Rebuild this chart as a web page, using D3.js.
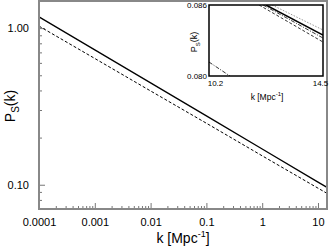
<!DOCTYPE html>
<html>
<head>
<meta charset="utf-8">
<script src="https://cdn.jsdelivr.net/npm/d3@7"></script>
<style>
  body { margin: 0; background: #fff; }
  svg { display: block; font-family: "Liberation Sans", Arial, sans-serif; }
</style>
</head>
<body>
<svg width="329" height="247"></svg>
<script>
// main panel: primordial spectrum vs k (log-log)
const kMain = [0.0001, 0.001, 0.01, 0.1, 1, 10, 14.5];
const psSolid = [1.18, 0.726, 0.447, 0.275, 0.169, 0.104, 0.0962];
const psDashed = [1.03, 0.640, 0.397, 0.247, 0.153, 0.0951, 0.0881];

const xTicks = [0.0001, 0.001, 0.01, 0.1, 1, 10];
const xTickLabels = ['0.0001', '0.001', '0.01', '0.1', '1', '10'];
const yTicks = [0.1, 1];
const yTickLabels = ['0.10', '1.00'];
const yMinor = [0.08, 0.09, 0.2, 0.3, 0.4, 0.5, 0.6, 0.7, 0.8, 0.9];

// inset: zoom near k = 10.2 .. 14.5
const insetK = [10.2, 14.5];
const insetP = [0.080, 0.086];
const insetDotted = { k: [12.58, 14.5], p: [0.086, 0.08389] };
const insetSolid = { k: [12.35, 14.5], p: [0.086, 0.08346] };
const insetDashDot = { k: [12.24, 14.5], p: [0.086, 0.08321] };
const insetDashed = { k: [12.09, 14.5], p: [0.086, 0.08287] };
const insetLow = { k: [10.2, 10.99], p: [0.08118, 0.080] };

const svg = d3.select('svg');

const x = d3.scaleLog().domain([0.0001, 14.5]).range([39, 327]);
const y = d3.scaleLog().domain([0.07, 1.49]).range([209, 1]);

// minor x ticks 2..9 per decade
const xMinor = [];
for (let e = -4; e <= 1; e++) {
  for (let m = 2; m <= 9; m++) {
    const v = m * Math.pow(10, e);
    if (v < 14.5) xMinor.push(v);
  }
}

const g = svg.append('g');

g.append('g')
  .attr('transform', 'translate(0,209)')
  .call(d3.axisBottom(x).tickValues(xMinor).tickFormat('').tickSizeInner(-3).tickSizeOuter(0))
  .call((s) => s.select('.domain').remove())
  .call((s) => s.selectAll('line').attr('stroke', '#777'));

g.append('g')
  .attr('transform', 'translate(0,209)')
  .call(d3.axisBottom(x).tickValues(xTicks).tickFormat((d, i) => xTickLabels[i]).tickSizeInner(-6).tickSizeOuter(0).tickPadding(9))
  .call((s) => s.select('.domain').remove())
  .call((s) => s.selectAll('line').attr('stroke', '#777'))
  .call((s) => s.selectAll('text').attr('font-size', 11).attr('fill', '#000').attr('font-family', null));

g.append('g')
  .attr('transform', 'translate(39,0)')
  .call(d3.axisLeft(y).tickValues(yMinor).tickFormat('').tickSizeInner(-3).tickSizeOuter(0))
  .call((s) => s.select('.domain').remove())
  .call((s) => s.selectAll('line').attr('stroke', '#777'));

g.append('g')
  .attr('transform', 'translate(39,0)')
  .call(d3.axisLeft(y).tickValues(yTicks).tickFormat((d, i) => yTickLabels[i]).tickSizeInner(-6).tickSizeOuter(0).tickPadding(10))
  .call((s) => s.select('.domain').remove())
  .call((s) => s.selectAll('line').attr('stroke', '#777'))
  .call((s) => s.selectAll('text').attr('font-size', 11).attr('fill', '#000').attr('font-family', null));

const line = d3.line().x((d) => x(d[0])).y((d) => y(d[1]));

g.append('path')
  .datum(d3.zip(kMain, psSolid))
  .attr('d', line)
  .attr('fill', 'none')
  .attr('stroke', '#000')
  .attr('stroke-width', 1.3);

g.append('path')
  .datum(d3.zip(kMain, psDashed))
  .attr('d', line)
  .attr('fill', 'none')
  .attr('stroke', '#000')
  .attr('stroke-width', 1)
  .attr('stroke-dasharray', '3,2');

// frame
g.append('rect')
  .attr('x', 39).attr('y', 1)
  .attr('width', 288).attr('height', 208)
  .attr('fill', 'none')
  .attr('stroke', '#888')
  .attr('stroke-width', 2);

// axis titles
const yl = svg.append('text')
  .attr('transform', 'translate(15,106) rotate(-90)')
  .attr('text-anchor', 'middle')
  .attr('font-size', 14);
yl.append('tspan').text('P');
yl.append('tspan').attr('font-size', 10).attr('dy', 4).text('S');
yl.append('tspan').attr('dy', -4).text('(k)');

const xl = svg.append('text')
  .attr('x', 183).attr('y', 243)
  .attr('text-anchor', 'middle')
  .attr('font-size', 14);
xl.append('tspan').text('k [Mpc');
xl.append('tspan').attr('font-size', 9).attr('dy', -6).text('-1');
xl.append('tspan').attr('dy', 6).text(']');

// ----- inset -----
const ix = d3.scaleLinear().domain(insetK).range([209, 323]);
const iy = d3.scaleLinear().domain(insetP).range([76, 5]);

const inset = svg.append('g');
inset.append('rect')
  .attr('x', 209).attr('y', 5)
  .attr('width', 114).attr('height', 71)
  .attr('fill', '#fff');

svg.append('clipPath').attr('id', 'ic')
  .append('rect').attr('x', 209).attr('y', 5).attr('width', 114).attr('height', 71);

const iline = d3.line().x((d) => ix(d[0])).y((d) => iy(d[1]));
const il = inset.append('g').attr('clip-path', 'url(#ic)');

const insetSeries = [
  { s: insetDotted, color: '#999', w: 1, dash: '1.5,1.5' },
  { s: insetSolid, color: '#000', w: 1.5, dash: null },
  { s: insetDashDot, color: '#000', w: 0.8, dash: '4,1.5,1,1.5' },
  { s: insetDashed, color: '#000', w: 0.8, dash: '3,2' },
  { s: insetLow, color: '#000', w: 0.8, dash: '4,1.5,1,1.5' }
];
insetSeries.forEach((o) => {
  il.append('path')
    .datum(d3.zip(o.s.k, o.s.p))
    .attr('d', iline)
    .attr('fill', 'none')
    .attr('stroke', o.color)
    .attr('stroke-width', o.w)
    .attr('stroke-dasharray', o.dash);
});

inset.append('g')
  .attr('transform', 'translate(0,76)')
  .call(d3.axisBottom(ix).tickValues(insetK).tickFormat(d3.format('.1f')).tickSize(0).tickPadding(4))
  .call((s) => s.select('.domain').remove())
  .call((s) => s.selectAll('text').attr('font-size', 8).attr('fill', '#000').attr('font-family', null)
    .attr('dx', (d, i) => (i === 0 ? 6 : -3)));

inset.append('g')
  .attr('transform', 'translate(209,0)')
  .call(d3.axisLeft(iy).tickValues(insetP).tickFormat(d3.format('.3f')).tickSize(0).tickPadding(2))
  .call((s) => s.select('.domain').remove())
  .call((s) => s.selectAll('text').attr('font-size', 8).attr('fill', '#000').attr('font-family', null));

inset.append('rect')
  .attr('x', 209).attr('y', 5)
  .attr('width', 114).attr('height', 71)
  .attr('fill', 'none')
  .attr('stroke', '#000')
  .attr('stroke-width', 1.5);

const iyl = svg.append('text')
  .attr('transform', 'translate(197,42) rotate(-90)')
  .attr('text-anchor', 'middle')
  .attr('font-size', 9);
iyl.append('tspan').text('P');
iyl.append('tspan').attr('font-size', 6).attr('dy', 2.5).text('S');
iyl.append('tspan').attr('dy', -2.5).text('(k)');

const ixl = svg.append('text')
  .attr('x', 267).attr('y', 100)
  .attr('text-anchor', 'middle')
  .attr('font-size', 8.5);
ixl.append('tspan').text('k [Mpc');
ixl.append('tspan').attr('font-size', 6).attr('dy', -4).text('-1');
ixl.append('tspan').attr('dy', 4).text(']');
</script>
</body>
</html>
